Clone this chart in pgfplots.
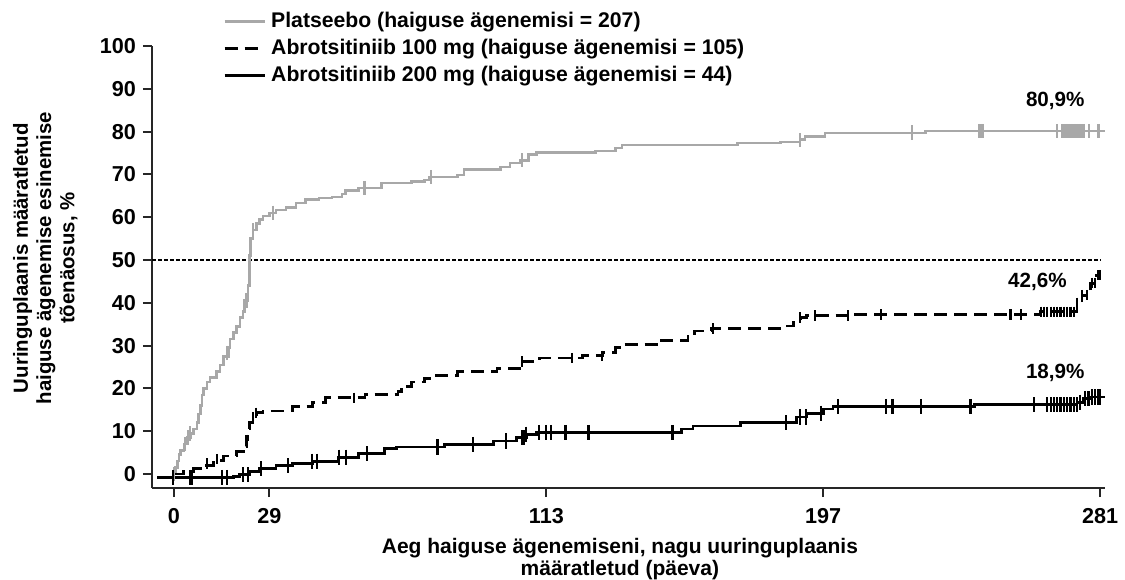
\documentclass[border=0pt]{standalone}
\usepackage{pgfplots}
\pgfplotsset{compat=1.18}
\usepackage{fontspec}
\setmainfont{Liberation Sans}
\definecolor{pgray}{RGB}{168,168,168}
\begin{document}
\begin{tikzpicture}
\begin{axis}[
  scale only axis,
  width=476.5pt, height=221pt,
  xmin=-6.65, xmax=282.5, ymin=-3.27, ymax=100,
  axis x line=bottom, axis y line=left,
  axis line style={-, line width=1pt, black!85},
  xtick={0,29,113,197,281},
  ytick={0,10,...,100},
  tick align=outside,
  major tick length=4.5pt,
  tick style={line width=1pt, black!85},
  /pgf/number format/assume math mode=true,
  tick label style={font=\bfseries\fontsize{10.8}{12}\selectfont},
  xticklabel style={yshift=-2pt},
  xlabel={Aeg haiguse ägenemiseni, nagu uuringuplaanis\\määratletud (päeva)},
  xlabel style={at={(axis description cs:0.491,-0.161)}, anchor=center, align=center, font=\bfseries\fontsize{10.5}{11}\selectfont},
  ylabel={Uuringuplaanis määratletud\\haiguse ägenemise esinemise\\tõenäosus, \%},
  ylabel style={at={(axis description cs:-0.112,0.52)}, anchor=center, align=center, rotate=0, font=\bfseries\fontsize{10.2}{11.6}\selectfont},
  clip=false,
  legend cell align=left,
  legend image code/.code={\draw[#1] (0pt,0pt) -- (20pt,0pt); \path (22pt,0pt);},
  legend style={at={(0.068,1.09)}, anchor=north west, draw=none, fill=none,
    font=\bfseries\fontsize{10.6}{11}\selectfont, row sep=2.6pt,
    nodes={inner sep=0.6pt, text height=7.6pt, text depth=2.1pt}},
]
% 50% reference line
\addplot[forget plot, black, line width=0.6pt, dash pattern=on 2pt off 1pt] coordinates {(-6.65,50) (281,50)};

% Placebo
\addplot[const plot, pgray, line width=1.3pt] coordinates {
(0,0) (0.5,1.5) (1,3) (1.5,4.5) (2,5.5) (3,7) (4,8.5) (5,9.5) (6,10.5) (7,12) (7.5,14) (8,16) (8.5,18.5) (9,20) (10,21.5) (11,22.5) (13,24) (14,25.5) (15,27.5) (16.5,29.5) (17,31.5) (18,33) (19,34.5) (20,36.5) (21,38) (21.5,40.5) (22.5,44) (23,51) (23.3,55) (24,57) (25,58.5) (26,59.5) (27,60.3) (29,61) (31,61.7) (34,62.2) (37,63.3) (40,64.2) (44,64.5) (48,64.7) (51,65.4) (52,66.3) (56,66.8) (63,68) (72,68.4) (76,68.7) (77.5,69.4) (86,69.9) (88,71.2) (99,71.7) (102,72.7) (105,73.3) (107.5,74.6) (110,75.1) (128,75.5) (134,76.2) (136,76.9) (171,77.3) (184,77.6) (190,78.2) (191.5,78.8) (197.5,79.7) (228,80.1) (282.5,80.1)};
\addlegendentry{Platseebo (haiguse ägenemisi = 207)}

% Abrotsitiniib 100 mg
\addplot[const plot, black, line width=1.4pt, dash pattern=on 6.5pt off 3.5pt] coordinates {
(0,0) (3,0.6) (6,1.2) (9,2) (12,3.2) (15,4.2) (19,5.2) (21,6.5) (22,8) (22.5,10.5) (23,12) (24,13.3) (25,14.3) (27,14.7) (36,15.7) (42,16.8) (46,17.8) (58,18.5) (68,19.3) (69,20.5) (72,21.5) (76,22.3) (79,23.1) (86,24) (98,24.7) (105,25.8) (106,26.3) (111,27.1) (124,27.6) (130,28.4) (134,29.5) (136,30.2) (147,31.2) (156,32.5) (158,33.4) (163,34) (186,34.6) (188,35.5) (190,36.6) (192,37) (205,37.3) (263,37.9) (274,40) (275.5,41.8) (278,44.6) (280,46.5) (281,46.5)};
\addlegendentry{Abrotsitiniib 100 mg (haiguse ägenemisi = 105)}

% Abrotsitiniib 200 mg
\addplot[const plot, black, line width=1.4pt] coordinates {
(-5,-0.9) (0,-0.8) (18,-0.5) (20,-0.2) (23,0.5) (26,1.2) (31,1.9) (36,2.4) (42,3) (50,3.9) (56,4.7) (64,6) (67.5,6.3) (82,6.9) (97,7.7) (104,8.5) (107,9.3) (110,9.7) (154,10.5) (157.5,11.2) (172,12) (189,13.3) (192,14.2) (197,15.2) (200,15.8) (243,16.2) (274,16.8) (276,17.6) (278,18) (282.5,18)};
\addlegendentry{Abrotsitiniib 200 mg (haiguse ägenemisi = 44)}

% censor marks placebo
\addplot[forget plot, only marks, mark=|, mark size=3.6pt, pgray, mark options={line width=1.1pt}] coordinates {
(0,0) (3.3,7) (4.2,8.5) (5,9.5) (16,28.3) (22,40.5) (24,57) (30,61) (57.8,66.8) (78,69.4) (105.6,73.3) (190,78) (224,79.8) (244.3,80.1) (244.7,80.1) (245.1,80.1) (245.5,80.1) (268,80.1) (269.5,80.1) (270,80.1) (270.5,80.1) (271,80.1) (271.5,80.1) (272,80.1) (272.5,80.1) (273,80.1) (273.5,80.1) (274,80.1) (274.5,80.1) (275,80.1) (275.5,80.1) (276,80.1) (277.7,80.1) (280.5,80.1)};

% censor marks 100 mg
\addplot[forget plot, only marks, mark=|, mark size=2.6pt, black, mark options={line width=1.1pt}] coordinates {
(10,2.5) (13,3.5) (22,8) (24,13.3) (25,14.3) (54.7,17.8) (105.6,26.3) (120.7,27.1) (129.8,27.6) (163.6,34) (190,36.6) (194.5,37) (204.5,37) (214.5,37.3) (253.8,37.3) (257,37.3) (263,37.9) (264,37.9) (265,37.9) (266,37.9) (267,37.9) (268,37.9) (269,37.9) (270,37.9) (271,37.9) (272,37.9) (273,37.9) (274,40) (275.5,41.8) (277,41.8) (278.5,44.6) (279.5,44.6) (280.5,46.5) (281,46.5)};

% censor marks 200 mg
\addplot[forget plot, only marks, mark=|, mark size=3.8pt, black, mark options={line width=1.1pt}] coordinates {
(-0.3,-0.8) (4.8,-0.8) (5.4,-0.8) (14.5,-0.8) (16,-0.8) (21,-0.2) (22.4,-0.2) (26.5,1.2) (34.5,1.9) (42,3) (43.5,3) (50,3.9) (52.3,3.9) (58.7,4.7) (80,6.3) (90.7,6.9) (100.7,7.7) (105.6,8.5) (106.2,8.5) (106.8,9.3) (110.7,9.7) (112.8,9.7) (114.3,9.7) (118.8,9.7) (125.8,9.7) (151.3,9.7) (185.7,12) (190,13.3) (191.8,13.3) (196.3,14.2) (201.5,15.8) (216,15.8) (218,15.8) (226.6,15.8) (241.7,15.8) (261,16.2) (265,16.2) (266,16.2) (267,16.2) (268,16.2) (269,16.2) (270,16.2) (271,16.2) (272,16.2) (273,16.2) (274,16.2) (275,16.8) (276.5,17.6) (277.5,17.6) (278.5,18) (279.5,18) (280.5,18) (281,18)};

\node[font=\bfseries\fontsize{10.3}{11}\selectfont] at (axis cs:267.4,87.1) {80,9\%};
\node[font=\bfseries\fontsize{10.3}{11}\selectfont] at (axis cs:262,44.9) {42,6\%};
\node[font=\bfseries\fontsize{10.3}{11}\selectfont] at (axis cs:267.4,23.6) {18,9\%};
\end{axis}
\pgfresetboundingbox
\path (-76pt,-45.5pt) rectangle (486.5pt,244pt);
\end{tikzpicture}
\end{document}
